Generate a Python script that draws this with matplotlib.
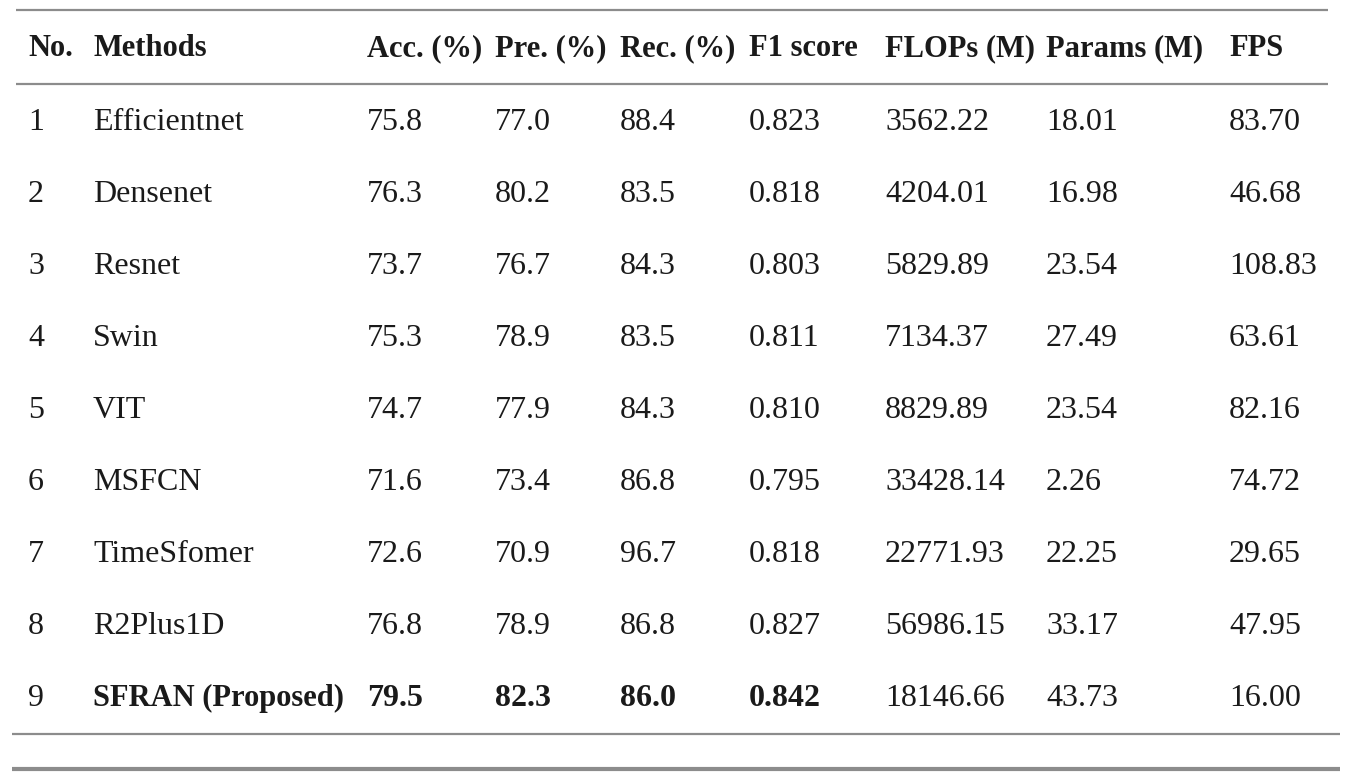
import matplotlib.pyplot as plt

# table contents
headers = ["No.", "Methods", "Acc. (%)", "Pre. (%)", "Rec. (%)", "F1 score",
           "FLOPs (M)", "Params (M)", "FPS"]
nums = ["1", "2", "3", "4", "5", "6", "7", "8", "9"]
methods = ["Efficientnet", "Densenet", "Resnet", "Swin", "VIT", "MSFCN",
           "TimeSfomer", "R2Plus1D", "SFRAN (Proposed)"]
acc = ["75.8", "76.3", "73.7", "75.3", "74.7", "71.6", "72.6", "76.8", "79.5"]
pre = ["77.0", "80.2", "76.7", "78.9", "77.9", "73.4", "70.9", "78.9", "82.3"]
rec = ["88.4", "83.5", "84.3", "83.5", "84.3", "86.8", "96.7", "86.8", "86.0"]
f1 = ["0.823", "0.818", "0.803", "0.811", "0.810", "0.795", "0.818", "0.827", "0.842"]
flops = ["3562.22", "4204.01", "5829.89", "7134.37", "8829.89", "33428.14",
         "22771.93", "56986.15", "18146.66"]
params = ["18.01", "16.98", "23.54", "27.49", "23.54", "2.26", "22.25", "33.17", "43.73"]
fps = ["83.70", "46.68", "108.83", "63.61", "82.16", "74.72", "29.65", "47.95", "16.00"]

columns = [nums, methods, acc, pre, rec, f1, flops, params, fps]
bold_row = 8
bold_cols = [1, 2, 3, 4, 5]

col_x = [28, 93, 367, 495, 620, 749, 885, 1046, 1229]
header_base = 56
row_base0, row_dy = 130, 72

plt.rcParams['font.family'] = ['Liberation Serif', 'DejaVu Serif']

fig = plt.figure(figsize=(13.48, 7.82), dpi=100)
ax = fig.add_axes([0, 0, 1, 1])
ax.set_xlim(0, 1348)
ax.set_ylim(782, 0)
ax.axis('off')

fs = 23
fs_bold = 22
txt_color = '#1a1a1a'
for j, h in enumerate(headers):
    ax.text(col_x[j], header_base, h, fontsize=fs_bold, fontweight='bold',
            va='baseline', ha='left', color=txt_color)

for j, col in enumerate(columns):
    for i, v in enumerate(col):
        y = row_base0 + i * row_dy
        if i == bold_row and j in bold_cols:
            size = fs_bold if j == 1 else fs
            ax.text(col_x[j], y, v, fontsize=size, fontweight='bold',
                    va='baseline', ha='left', color=txt_color)
        else:
            ax.text(col_x[j], y, v, fontsize=fs,
                    va='baseline', ha='left', color=txt_color)

rule = '#8c8c8c'
ax.hlines(10, 16, 1328, color=rule, lw=1.6)
ax.hlines(84, 16, 1328, color=rule, lw=1.6)
ax.hlines(733.5, 12, 1340, color=rule, lw=1.6)
ax.hlines(769, 12, 1340, color=rule, lw=3)

fig.savefig('out.png', dpi=100)
